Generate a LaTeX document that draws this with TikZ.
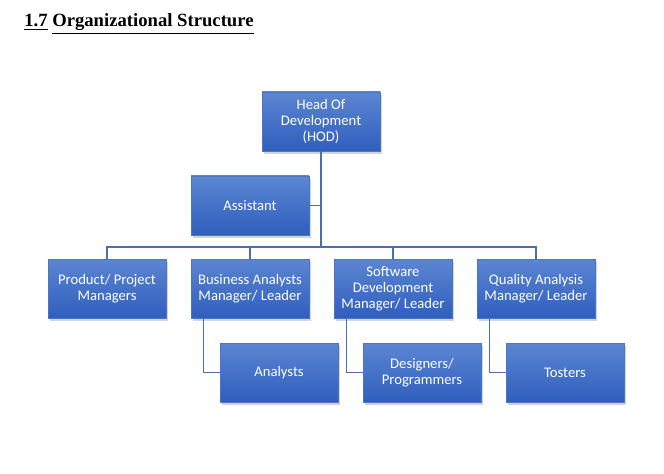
\documentclass[tikz,border=0pt]{standalone}
\usepackage{fontspec}
\setmainfont{Liberation Serif}
\newfontfamily\boxfont{Carlito}
\usetikzlibrary{shadows}
\definecolor{boxtop}{HTML}{5C86D2}
\definecolor{boxbot}{HTML}{2F5EBD}
\definecolor{boxedge}{HTML}{4A76C8}
\definecolor{connblue}{HTML}{4A6EB0}
\begin{document}
\begin{tikzpicture}[
        x=0.75pt, y=-0.75pt,
        orgbox/.style={draw=boxedge, line width=0.4pt, top color=boxtop,
          bottom color=boxbot, text=white, align=center,
          minimum width=88.5pt, minimum height=44.25pt, inner sep=1pt,
          font=\boxfont\fontsize{11}{12}\selectfont,
          drop shadow={shadow xshift=1.5pt, shadow yshift=-2pt, opacity=0.35}},
        conn/.style={draw=connblue, line width=0.8pt}
      ]
      \useasboundingbox (0,0) rectangle (664,474);
      % title
      \node[anchor=base west, inner sep=0pt, font=\fontsize{14}{16}\selectfont\bfseries]
        (title) at (24,27) {\underline{1.7} \underline{Organizational Structure}};
      % boxes
      \foreach \name/\cx/\cy/\lbl in {%
        hod/321/121.5/{Head Of\\Development\\(HOD)},
        asst/250/205.5/Assistant,
        prod/107/288.5/{Product/ Project\\Managers},
        biz/250/288.5/{Business Analysts\\Manager/ Leader},
        soft/393/288.5/{Software\\Development\\Manager/ Leader},
        qual/536/288.5/{Quality Analysis\\Manager/ Leader},
        anl/279/372.5/Analysts,
        dev/422/372.5/{Designers/\\Programmers},
        test/565/372.5/Tosters%
      }{
        \node[orgbox] (\name) at (\cx,\cy) {\lbl};
      }
      % connectors
      \coordinate (bus) at (321,247);
      \draw[conn] (hod.south) -- (bus);
      \draw[conn] (asst.east) -- (asst.east -| hod.south);
      \draw[conn] (prod.north) -- (prod.north |- bus) -| (qual.north);
      \draw[conn] (bus -| biz.north) -- (biz.north);
      \draw[conn] (bus -| soft.north) -- (soft.north);
      \draw[conn] ([xshift=9.75pt]biz.south west) |- (anl.west);
      \draw[conn] ([xshift=9.75pt]soft.south west) |- (dev.west);
      \draw[conn] ([xshift=9.75pt]qual.south west) |- (test.west);
    \end{tikzpicture}
\end{document}
